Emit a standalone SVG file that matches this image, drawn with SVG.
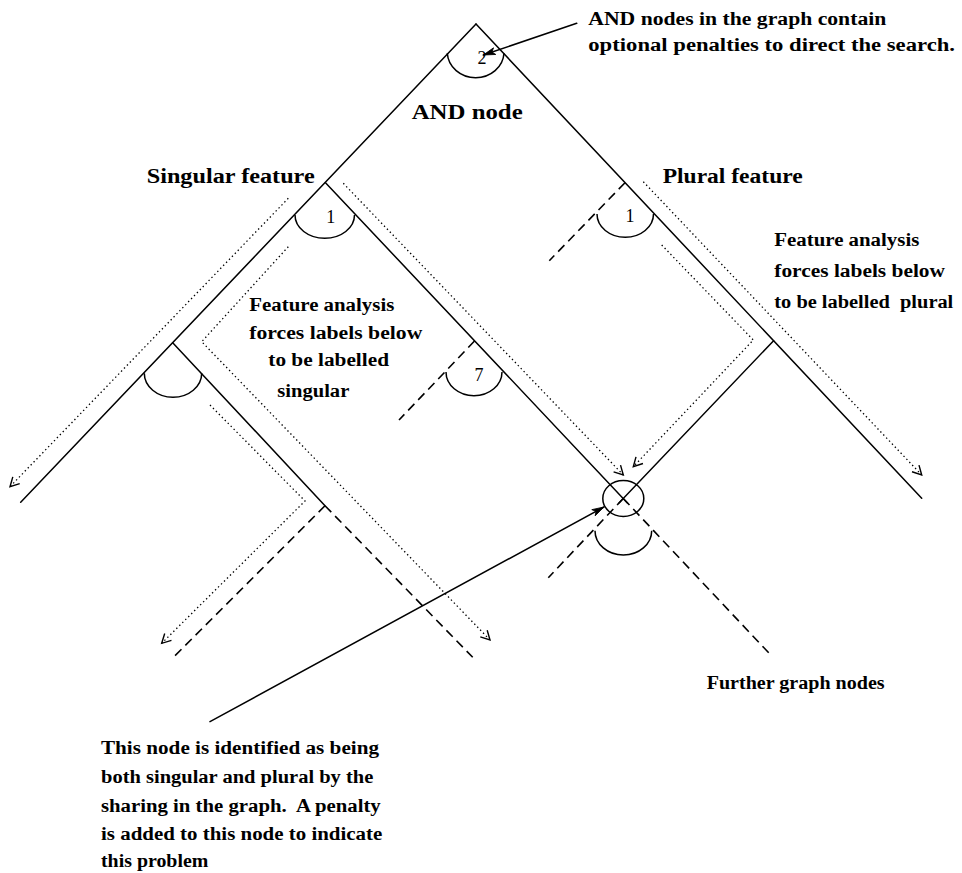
<svg xmlns="http://www.w3.org/2000/svg" width="962" height="873" viewBox="0 0 962 873">
<defs>
<style>
.s{fill:none;stroke:#000;stroke-width:1.5;stroke-linecap:round}
.d{fill:none;stroke:#000;stroke-width:1.6;stroke-dasharray:9 5.5}
.o{fill:none;stroke:#000;stroke-width:1.3;stroke-dasharray:1.4 2.8}
.arc{fill:none;stroke:#000;stroke-width:1.5}
.h{font-family:"Liberation Serif","Times New Roman",serif;font-size:20px;font-weight:bold;fill:#000}
.t{font-family:"Liberation Serif","Times New Roman",serif;font-size:18px;font-weight:bold;fill:#000}
.n{font-family:"Liberation Serif","Times New Roman",serif;font-size:18px;fill:#000;text-anchor:middle}
</style>
<marker id="vopen" viewBox="-11 -6 13 12" markerWidth="13" markerHeight="12" refX="0" refY="0" orient="auto" markerUnits="userSpaceOnUse">
<path d="M-9,-4.8 L0,0 L-9,4.8" fill="none" stroke="#000" stroke-width="1.4" stroke-dasharray="none"/>
</marker>
<marker id="vfill" viewBox="-13 -5 15 10" markerWidth="15" markerHeight="10" refX="0" refY="0" orient="auto" markerUnits="userSpaceOnUse">
<path d="M-12,-3.5 L0,0 L-12,3.5 L-9,0 z" fill="#000" stroke="#000" stroke-width="0.8" stroke-dasharray="none"/>
</marker>
</defs>
<rect width="962" height="873" fill="#fff"/>

<g id="connectors">
<line class="s" x1="476" y1="24" x2="20.7" y2="502.3"/>
<line class="s" x1="476" y1="24" x2="921.7" y2="498.3"/>
<line class="s" x1="325.5" y1="182.7" x2="627.4" y2="502.9"/>
<line class="s" x1="773.6" y1="340.7" x2="619.2" y2="502.8"/>
<line class="s" x1="172.7" y1="342.7" x2="325" y2="505.7"/>
<line class="d" x1="625" y1="182.7" x2="549.3" y2="260.7"/>
<line class="d" x1="474.5" y1="341" x2="399" y2="420"/>
<line class="d" x1="325" y1="505.7" x2="171.7" y2="659"/>
<line class="d" x1="325" y1="505.7" x2="472.7" y2="657.3"/>
<line class="d" x1="623.3" y1="498.5" x2="548.3" y2="577.7"/>
<line class="d" x1="623.3" y1="498.5" x2="771.7" y2="656"/>
<path class="o" d="M288.3,198.3 L10,486.7" marker-end="url(#vopen)"/>
<path class="o" d="M288.3,246.7 L201.7,341.7 L490,640" marker-end="url(#vopen)"/>
<path class="o" d="M210,405 L305,501 L161.7,643.3" marker-end="url(#vopen)"/>
<path class="o" d="M343.3,183.3 L623.3,475" marker-end="url(#vopen)"/>
<path class="o" d="M643.3,181.7 L921.7,475" marker-end="url(#vopen)"/>
<path class="o" d="M661.7,245 L753.3,340 L633.3,466.7" marker-end="url(#vopen)"/>
<line class="s" x1="576.7" y1="23.3" x2="483.3" y2="55" marker-end="url(#vfill)"/>
<line class="s" x1="210" y1="721.7" x2="604" y2="507" marker-end="url(#vfill)"/>
</g>

<g id="node-root">
<path class="arc" d="M447.3,53.3 A28.4,26 0 0,0 504,53.3"/>
<text class="n" x="482" y="64">2</text>
</g>
<g id="node-singular">
<path class="arc" d="M295,215 A29.75,23.3 0 0,0 354.5,215"/>
<text class="n" x="330.7" y="222.5">1</text>
</g>
<g id="node-plural">
<path class="arc" d="M597,214 A28.25,23.3 0 0,0 653.5,214"/>
<text class="n" x="630" y="222">1</text>
</g>
<g id="node-left">
<path class="arc" d="M144.3,373.3 A28.7,24 0 0,0 201.7,373.3"/>
</g>
<g id="node-seven">
<path class="arc" d="M446,372 A28,23.7 0 0,0 502,372"/>
<text class="n" x="479" y="381">7</text>
</g>
<g id="node-shared">
<ellipse class="arc" cx="623.3" cy="498.5" rx="20.5" ry="18"/>
<path class="arc" d="M595,530.7 A28.35,24.3 0 0,0 651.7,530.7"/>
</g>

<g id="labels">
<text class="h" x="411.7" y="119" textLength="111" lengthAdjust="spacingAndGlyphs">AND node</text>
<text class="h" x="146.7" y="183" textLength="168" lengthAdjust="spacingAndGlyphs">Singular feature</text>
<text class="h" x="662.7" y="182.5" textLength="140" lengthAdjust="spacingAndGlyphs">Plural feature</text>

<text class="t" x="588.3" y="25" textLength="298" lengthAdjust="spacingAndGlyphs">AND nodes in the graph contain</text>
<text class="t" x="588.3" y="50.5" textLength="366.7" lengthAdjust="spacingAndGlyphs">optional penalties to direct the search.</text>

<text class="t" x="249.3" y="310.7" textLength="145" lengthAdjust="spacingAndGlyphs">Feature analysis</text>
<text class="t" x="249.3" y="339" textLength="173" lengthAdjust="spacingAndGlyphs">forces labels below</text>
<text class="t" x="268.3" y="366" textLength="120.7" lengthAdjust="spacingAndGlyphs">to be labelled</text>
<text class="t" x="277.3" y="396.7" textLength="72" lengthAdjust="spacingAndGlyphs">singular</text>

<text class="t" x="774.3" y="245.7" textLength="145" lengthAdjust="spacingAndGlyphs">Feature analysis</text>
<text class="t" x="774.3" y="276.7" textLength="170.7" lengthAdjust="spacingAndGlyphs">forces labels below</text>
<text class="t" x="774.3" y="307.7" textLength="179" lengthAdjust="spacingAndGlyphs" xml:space="preserve">to be labelled  plural</text>

<text class="t" x="706.7" y="689.3" textLength="178" lengthAdjust="spacingAndGlyphs">Further graph nodes</text>

<text class="t" x="101" y="754" textLength="278" lengthAdjust="spacingAndGlyphs">This node is identified as being</text>
<text class="t" x="101" y="783" textLength="272.3" lengthAdjust="spacingAndGlyphs">both singular and plural by the</text>
<text class="t" x="101" y="811.7" textLength="279.7" lengthAdjust="spacingAndGlyphs" xml:space="preserve">sharing in the graph.  A penalty</text>
<text class="t" x="101" y="840" textLength="281.3" lengthAdjust="spacingAndGlyphs">is added to this node to indicate</text>
<text class="t" x="101" y="867" textLength="107.3" lengthAdjust="spacingAndGlyphs">this problem</text>
</g>
</svg>
